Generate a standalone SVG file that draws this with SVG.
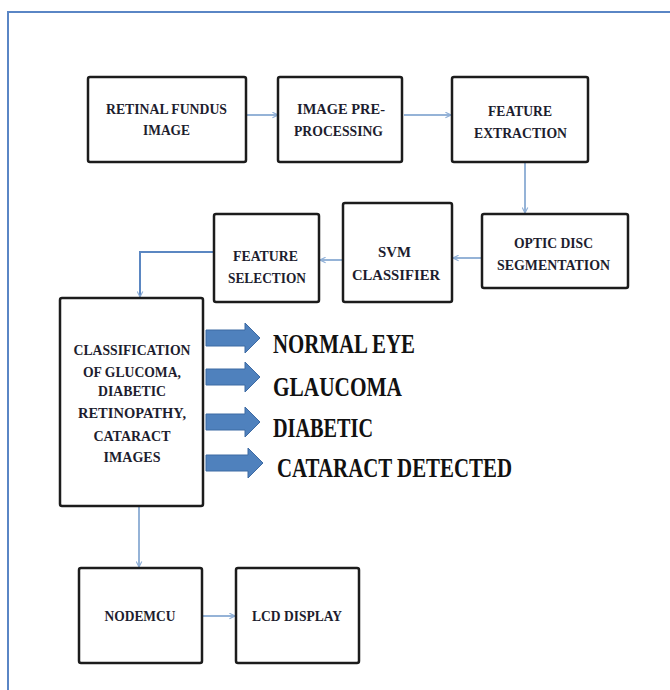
<svg xmlns="http://www.w3.org/2000/svg" width="670" height="690" viewBox="0 0 670 690">
<style>
.box{fill:#fff;stroke:#1c1c1c;stroke-width:2.5}
.t{font-weight:bold;font-size:15px;fill:#1d1d2e;text-anchor:middle}
.lab{font-weight:bold;font-size:27px;fill:#111}
.con{fill:none;stroke:#95b3d7;stroke-width:2}
.con2{fill:none;stroke:#5b87c2;stroke-width:2}
.blk{fill:#4f81bd;stroke:#3d6aa3;stroke-width:1}
.frame{fill:none;stroke:#5a86c5;stroke-width:2}
</style>
<defs>
<marker id="ah" viewBox="0 0 10 10" refX="9" refY="5" markerWidth="7" markerHeight="7" markerUnits="userSpaceOnUse" orient="auto">
<path d="M1,1 L9,5 L1,9" fill="none" stroke="#8eaed6" stroke-width="1.6"/>
</marker>
</defs>
<rect width="670" height="690" fill="#fff"/>
<path class="frame" d="M8,690 V12 H670"/>

<g id="connectors">
<line class="con" x1="247" y1="115" x2="278" y2="115" marker-end="url(#ah)"/>
<line class="con" x1="404" y1="115" x2="451" y2="115" marker-end="url(#ah)"/>
<line class="con" x1="525" y1="163" x2="525" y2="213" marker-end="url(#ah)"/>
<line class="con" x1="481" y1="258" x2="453" y2="258" marker-end="url(#ah)"/>
<line class="con" x1="342" y1="260" x2="320" y2="260" marker-end="url(#ah)"/>
<path class="con2" d="M213,252 H140 V297" marker-end="url(#ah)"/>
<line class="con" x1="139" y1="507" x2="139" y2="567" marker-end="url(#ah)"/>
<line class="con" x1="203" y1="616" x2="235" y2="616" marker-end="url(#ah)"/>
</g>

<g font-family="Liberation Serif, Times New Roman, DejaVu Serif, serif">
<g id="n-fundus">
<rect class="box" x="88" y="77" width="158" height="85" rx="2"/>
<text class="t" x="166.5" y="114" textLength="121" lengthAdjust="spacingAndGlyphs">RETINAL FUNDUS</text>
<text class="t" x="166.5" y="135" textLength="47" lengthAdjust="spacingAndGlyphs">IMAGE</text>
</g>
<g id="n-preproc">
<rect class="box" x="278" y="77" width="124" height="85" rx="2"/>
<text class="t" x="341" y="114" textLength="88" lengthAdjust="spacingAndGlyphs">IMAGE PRE-</text>
<text class="t" x="338.5" y="136" textLength="89" lengthAdjust="spacingAndGlyphs">PROCESSING</text>
</g>
<g id="n-featext">
<rect class="box" x="452" y="77" width="136" height="85" rx="2"/>
<text class="t" x="520" y="116" textLength="64" lengthAdjust="spacingAndGlyphs">FEATURE</text>
<text class="t" x="520.5" y="138" textLength="93" lengthAdjust="spacingAndGlyphs">EXTRACTION</text>
</g>
<g id="n-optic">
<rect class="box" x="482" y="214" width="146" height="74" rx="2"/>
<text class="t" x="553.5" y="248" textLength="79" lengthAdjust="spacingAndGlyphs">OPTIC DISC</text>
<text class="t" x="553.5" y="270" textLength="113" lengthAdjust="spacingAndGlyphs">SEGMENTATION</text>
</g>
<g id="n-svm">
<rect class="box" x="343" y="203" width="109" height="99" rx="2"/>
<text class="t" x="394.5" y="257" textLength="33" lengthAdjust="spacingAndGlyphs">SVM</text>
<text class="t" x="396" y="280" textLength="88" lengthAdjust="spacingAndGlyphs">CLASSIFIER</text>
</g>
<g id="n-featsel">
<rect class="box" x="214" y="214" width="105" height="88" rx="2"/>
<text class="t" x="265.5" y="261" textLength="65" lengthAdjust="spacingAndGlyphs">FEATURE</text>
<text class="t" x="267" y="283" textLength="78" lengthAdjust="spacingAndGlyphs">SELECTION</text>
</g>
<g id="n-classif">
<rect class="box" x="60" y="298" width="143" height="208" rx="2"/>
<text class="t" x="132" y="355" textLength="117" lengthAdjust="spacingAndGlyphs">CLASSIFICATION</text>
<text class="t" x="132" y="377" textLength="98" lengthAdjust="spacingAndGlyphs">OF GLUCOMA,</text>
<text class="t" x="132" y="396" textLength="68" lengthAdjust="spacingAndGlyphs">DIABETIC</text>
<text class="t" x="132" y="418" textLength="108" lengthAdjust="spacingAndGlyphs">RETINOPATHY,</text>
<text class="t" x="132" y="441" textLength="77" lengthAdjust="spacingAndGlyphs">CATARACT</text>
<text class="t" x="132" y="462" textLength="57" lengthAdjust="spacingAndGlyphs">IMAGES</text>
</g>
<g id="outputs">
<path class="blk" d="M206,330 H245 V323 L260,338 L245,353 V346 H206 Z"/>
<path class="blk" d="M206,369 H245 V362 L260,377 L245,392 V385 H206 Z"/>
<path class="blk" d="M206,414 H245 V407 L260,422 L245,437 V430 H206 Z"/>
<path class="blk" d="M206,455 H248 V448 L263,463 L248,478 V471 H206 Z"/>
<text class="lab" x="273" y="353" textLength="142" lengthAdjust="spacingAndGlyphs">NORMAL EYE</text>
<text class="lab" x="273" y="396" textLength="129" lengthAdjust="spacingAndGlyphs">GLAUCOMA</text>
<text class="lab" x="273" y="437" textLength="100" lengthAdjust="spacingAndGlyphs">DIABETIC</text>
<text class="lab" x="277" y="477" textLength="235" lengthAdjust="spacingAndGlyphs">CATARACT DETECTED</text>
</g>
<g id="n-nodemcu">
<rect class="box" x="79" y="568" width="123" height="95" rx="2"/>
<text class="t" x="140" y="621" textLength="71" lengthAdjust="spacingAndGlyphs">NODEMCU</text>
</g>
<g id="n-lcd">
<rect class="box" x="236" y="568" width="123" height="95" rx="2"/>
<text class="t" x="297" y="621" textLength="90" lengthAdjust="spacingAndGlyphs">LCD DISPLAY</text>
</g>
</g>
</svg>
